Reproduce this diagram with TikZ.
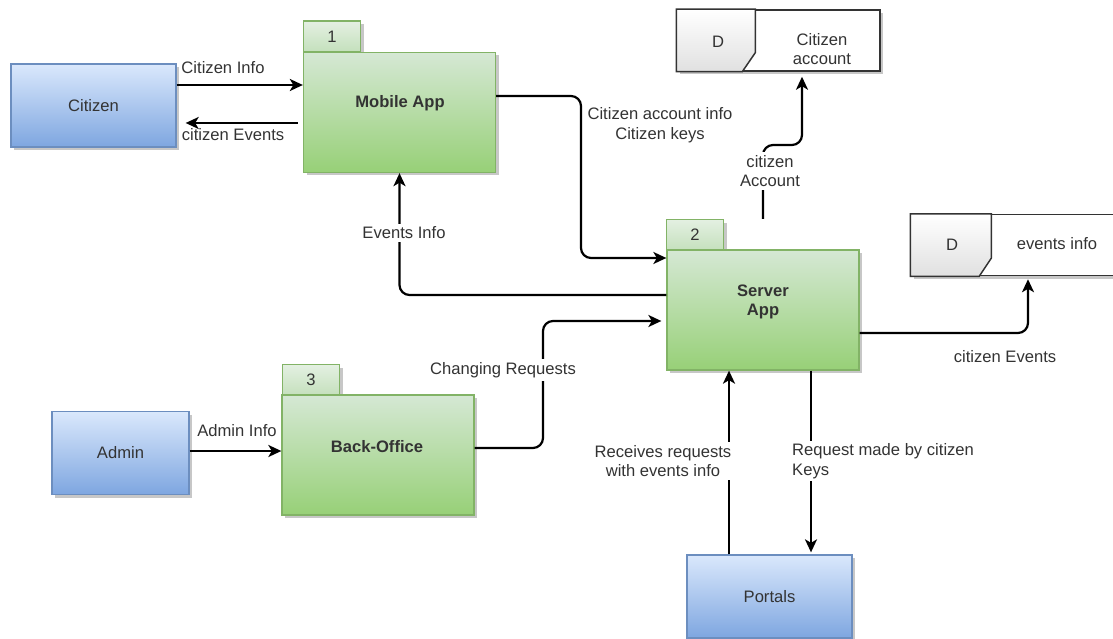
\documentclass[tikz,border=0pt]{standalone}
\usepackage{fontspec}
\setmainfont{Liberation Sans}
\usetikzlibrary{arrows.meta}

\definecolor{entTop}{HTML}{DAE8FC}
\definecolor{entBot}{HTML}{7EA6E0}
\definecolor{entLine}{HTML}{6C8EBF}
\definecolor{procTop}{HTML}{D5E8D4}
\definecolor{procBot}{HTML}{97D077}
\definecolor{procLine}{HTML}{82B366}
\definecolor{tabTop}{HTML}{E4F0E2}
\definecolor{tabBot}{HTML}{C4E0BC}
\definecolor{ink}{HTML}{333333}
\definecolor{storeLine}{HTML}{333333}

\newcommand{\lblfont}{\fontsize{16.6}{19.5}\selectfont}

\tikzset{
  shadowed/.style={preaction={fill=black!22, transform canvas={xshift=3pt,yshift=-3pt}}},
  entity/.style={shadowed, draw=entLine, line width=1.3pt, top color=entTop, bottom color=entBot,
    minimum width=165pt, minimum height=83pt, inner sep=0pt, font=\lblfont, text=ink},
  procbody/.style={shadowed, draw=procLine, line width=1.3pt, top color=procTop, bottom color=procBot,
    minimum width=192pt, minimum height=120pt, inner sep=0pt},
  proctab/.style={shadowed, draw=procLine, line width=1.3pt, top color=tabTop, bottom color=tabBot,
    minimum width=57pt, minimum height=31pt, inner sep=0pt, font=\lblfont, text=ink},
  proctext/.style={font=\lblfont\bfseries, text=ink, align=center, inner sep=0pt},
  store/.style={shadowed, draw=storeLine, line width=1.5pt, fill=white,
    minimum width=203pt, minimum height=61pt, inner sep=0pt},
  storepart/.style={draw=storeLine, line width=1.5pt, top color=white, bottom color=black!12},
  storetext/.style={font=\lblfont, text=ink, align=center, inner sep=0pt},
  flow/.style={draw=black, line width=2.2pt, rounded corners=10pt,
    -{Stealth[length=13pt,width=12pt,inset=3.5pt]}},
  flowlabel/.style={font=\lblfont, text=ink, align=center, inner sep=1.5pt},
  flowlabelbg/.style={flowlabel, fill=white, inner sep=3pt},
}

\begin{document}
\begin{tikzpicture}[x=1pt,y=-1pt]
\path[use as bounding box] (0,0) rectangle (1113,639);
\clip (0,0) rectangle (1113,639);

% external entities
\node[entity] (citizen) at (93.5,105.5) {Citizen};
\node[entity, minimum width=137pt] (admin) at (120.5,453) {Admin};
\node[entity] (portals) at (769.5,596.5) {Portals};

% processes: folder body with a numbered tab
\node[proctab]  (mobiletab) at (332,36.5) {1};
\node[procbody] (mobile)    at (399.5,112.5) {};
\node[proctext] (mobiletext) at (400,103) {Mobile App};

\node[proctab]  (servertab) at (695,235) {2};
\node[procbody] (server)    at (763,310) {};
\node[proctext] (servertext) at (763,302) {Server\\App};

\node[proctab]  (backtab)   at (311,380) {3};
\node[procbody] (backoffice) at (378,455) {};
\node[proctext] (backtext)  at (377,447) {Back-Office};

% data stores
\node[store] (storeacc) at (778.5,40.5) {};
\path[storepart] (storeacc.north west) -- ([xshift=79pt]storeacc.north west)
  -- ([xshift=79pt,yshift=19pt]storeacc.south west) -- ([xshift=66pt]storeacc.south west)
  -- (storeacc.south west) -- cycle;
\node[storetext] (accD)    at (718,42) {D};
\node[storetext] (acctext) at (822,49) {Citizen\\account};

\node[store] (storeev) at (1012.5,245) {};
\path[storepart] (storeev.north west) -- ([xshift=81pt]storeev.north west)
  -- ([xshift=81pt,yshift=18pt]storeev.south west) -- ([xshift=69pt]storeev.south west)
  -- (storeev.south west) -- cycle;
\node[storetext] (evD)    at (952,245) {D};
\node[storetext] (evtext) at (1057,244) {events info};

% data flows
\draw[flow] (citizen.east |- 0,85) -- (mobile.west |- 0,85);
\draw[flow] ([xshift=-5pt]mobile.west |- 0,123) -- ([xshift=9pt]citizen.east |- 0,123);
\draw[flow] (admin.east |- 0,451) -- (backoffice.west |- 0,451);
\draw[flow] (mobile.east |- 0,96) -- (581,96) -- (581,258) -- (server.west |- 0,258);
\draw[flow] (server.west |- 0,295) -| (mobile.south);
\draw[flow] (backoffice.east |- 0,448) -- (543,448) -- (543,321) -- ([xshift=-5pt]server.west |- 0,321);
\draw[flow] (server.north |- servertab.north) -- (763,145) -- (802,145) -- ([yshift=-5pt]storeacc.south -| 802,0);
\draw[flow] (server.east |- 0,333) -- (1028,333) -- ([yshift=-3pt]storeev.south -| 1028,0);
\draw[flow] (portals.north -| 729,0) -- (server.south -| 729,0);
\draw[flow] (server.south -| 811,0) -- ([yshift=2pt]portals.north -| 811,0);

% flow labels
\node[flowlabel]   (lcitinfo)  at (223,68)   {Citizen Info};
\node[flowlabel]   (lcitev)    at (233,135)  {citizen Events};
\node[flowlabel]   (ladmin)    at (237,431)  {Admin Info};
\node[flowlabelbg] (levinfo)   at (404,233)  {Events Info};
\node[flowlabel]   (lacc)      at (660,125)  {Citizen account info\\Citizen keys};
\node[flowlabelbg] (lcitacc)   at (770,171)  {citizen\\Account};
\node[flowlabelbg] (lchange)   at (503,370)  {Changing Requests};
\node[flowlabel]   (lcitev2)   at (1005,357) {citizen Events};
\node[flowlabelbg] (lrecv)     at (663,461)  {Receives requests\\with events info};
\node[flowlabelbg, anchor=west, align=left] (lreq) at (789,461) {Request made by citizen\\Keys};
\end{tikzpicture}
\end{document}
